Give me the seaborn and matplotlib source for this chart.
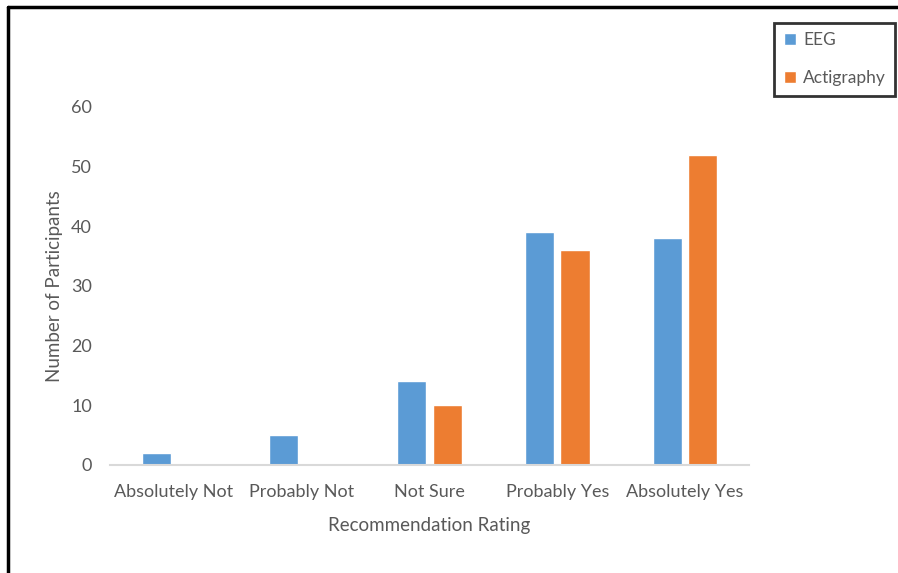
import pandas as pd
import matplotlib.pyplot as plt
import seaborn as sns
from matplotlib.lines import Line2D

# データ
ratings = ['Absolutely Not', 'Probably Not', 'Not Sure', 'Probably Yes', 'Absolutely Yes']
eeg = [2, 5, 14, 39, 38]
actigraphy = [0, 0, 10, 36, 52]
series_names = ['EEG', 'Actigraphy']

df = pd.DataFrame({
    'rating': ratings * 2,
    'count': eeg + actigraphy,
    'device': [series_names[0]] * len(ratings) + [series_names[1]] * len(ratings),
})

sns.set_theme(style='white')
plt.rcParams['font.family'] = ['Lato', 'DejaVu Sans']
gray = '#595959'

fig = plt.figure(figsize=(8.98, 5.73), dpi=100)
ax = fig.add_axes([0.1225, 0.1885, 0.7115, 0.6248])

sns.barplot(data=df, x='rating', y='count', hue='device', order=ratings,
            hue_order=series_names, palette=['#5B9BD5', '#ED7D31'],
            width=0.555, gap=0.18, saturation=1, ax=ax, legend=True)

ax.set_xlim(-0.5, 4.5)
ax.set_ylim(0, 60)
ax.set_yticks(range(0, 61, 10))
ax.tick_params(axis='both', colors=gray, labelsize=13, length=0)
ax.tick_params(axis='x', pad=14)
ax.tick_params(axis='y', pad=13)
ax.set_xlabel('Recommendation Rating', fontsize=13.5, color=gray, labelpad=12)
ax.set_ylabel('Number of Participants', fontsize=13.5, color=gray, labelpad=6)

for side in ['top', 'right', 'left']:
    ax.spines[side].set_visible(False)
ax.spines['bottom'].set_color('#D9D9D9')
ax.spines['bottom'].set_linewidth(1.5)

# 凡例
handles, labels = ax.get_legend_handles_labels()
leg = ax.legend(handles, labels, loc='upper right', bbox_to_anchor=(0.997, 0.96),
                bbox_transform=fig.transFigure, frameon=True, fancybox=False,
                fontsize=12.5, handlelength=0.7, handleheight=0.7, handletextpad=0.4,
                labelspacing=1.25, borderpad=0.55, borderaxespad=0)
leg.get_frame().set_edgecolor('black')
leg.get_frame().set_linewidth(2)
for t in leg.get_texts():
    t.set_color(gray)

# 外枠
fig.add_artist(Line2D([0.009, 1.0], [0.987, 0.987], color='black', lw=2.5, transform=fig.transFigure))
fig.add_artist(Line2D([0.009, 0.009], [0.0, 0.987], color='black', lw=2.5, transform=fig.transFigure))

plt.savefig('out.png', dpi=100)
plt.close()
